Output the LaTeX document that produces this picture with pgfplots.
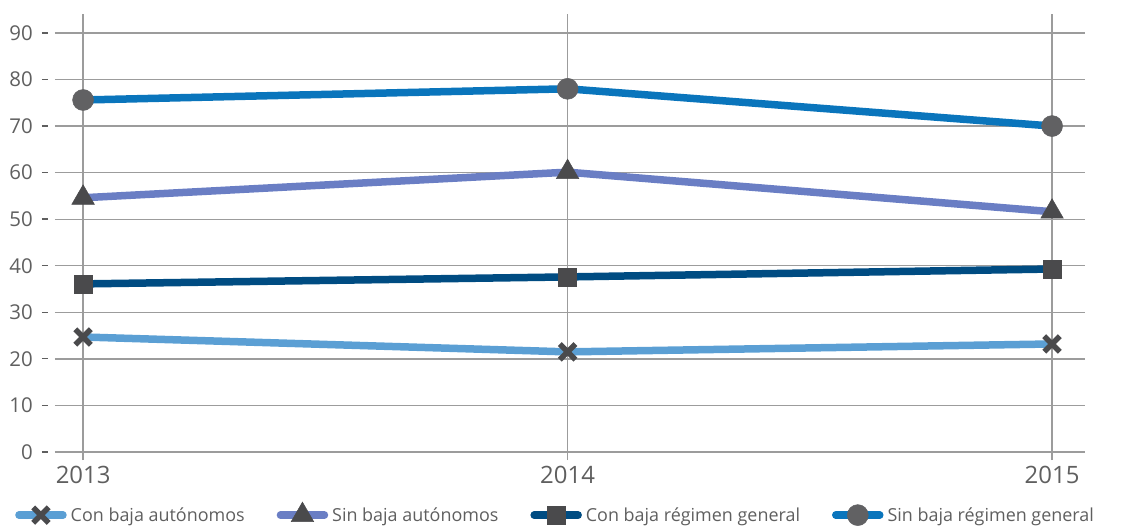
\documentclass[border=0pt]{standalone}
\usepackage{pgfplots}
\pgfplotsset{compat=1.18}
\usepackage{fontspec}
\setmainfont{Open Sans}
\definecolor{cA}{HTML}{5B9FD4}
\definecolor{cB}{HTML}{6A7EC4}
\definecolor{cC}{HTML}{004C82}
\definecolor{cD}{HTML}{0A75BC}
\definecolor{mk}{HTML}{4A4A4C}
\definecolor{mk2}{HTML}{616163}
\definecolor{txt}{HTML}{5F5F5F}
\definecolor{grd}{HTML}{9C9C9C}
\begin{document}
\begin{tikzpicture}
\begin{axis}[
  name=ax,
  scale only axis, width=1030bp, height=446bp,
  xmin=2012.942, xmax=2015.068, ymin=-1.72, ymax=94.07,
  axis line style={draw=none},
  major tick style={draw=none},
  /pgf/number format/assume math mode=true,
  xtick={2013,2014,2015},
  xticklabels={2013,2014,2015},
  ytick={0,10,...,90},
  yticklabel={\pgfmathprintnumber{\tick}\hspace{9bp}\rule[0.33em]{6bp}{1.3bp}},
  yticklabel style={anchor=east, inner xsep=7bp, font=\fontsize{20.5}{22}\selectfont},
  xticklabel style={anchor=north, inner ysep=6bp, font=\fontsize{24}{26}\selectfont},
  ticklabel style={text=txt},
  xmajorgrids, ymajorgrids,
  grid style={draw=grd, line width=1.3bp},
  legend columns=4,
  legend style={at={(-0.0388,-0.094)}, anchor=north west, draw=none, fill=none,
    font=\fontsize{18}{20}\selectfont, text=txt,
    /tikz/every even column/.append style={column sep=30bp},
    /tikz/every odd column/.append style={column sep=2bp},
    inner xsep=0pt, inner ysep=0pt},
  legend image code/.code={
    \draw[#1, line cap=round, mark repeat=2, mark phase=2] plot coordinates {(0bp,0bp) (22bp,0bp) (44bp,0bp)};
  },
  every axis plot/.append style={line width=7.5bp},
]
\addplot[color=cA, mark=x, mark size=11bp, mark options={solid, draw=mk, line width=5.5bp, line cap=butt}]
  coordinates {(2013,24.7) (2014,21.5) (2015,23.2)};
\addlegendentry{Con baja autónomos}
\addplot[color=cB, mark=triangle*, mark size=13bp, mark options={solid, fill=mk, draw=mk, line width=0.5bp}]
  coordinates {(2013,54.6) (2014,60.1) (2015,51.6)};
\addlegendentry{Sin baja autónomos}
\addplot[color=cC, mark=square*, mark size=9bp, mark options={solid, fill=mk, draw=mk, line width=0.5bp}]
  coordinates {(2013,36.1) (2014,37.6) (2015,39.3)};
\addlegendentry{Con baja régimen general}
\addplot[color=cD, mark=*, mark size=10.5bp, mark options={solid, fill=mk2, draw=mk2, line width=0.5bp}]
  coordinates {(2013,75.6) (2014,78.0) (2015,70.0)};
\addlegendentry{Sin baja régimen general}
\end{axis}
\path (ax.south west) ++(-55bp,-66bp) rectangle ++(1140bp,526bp);
\end{tikzpicture}
\end{document}
